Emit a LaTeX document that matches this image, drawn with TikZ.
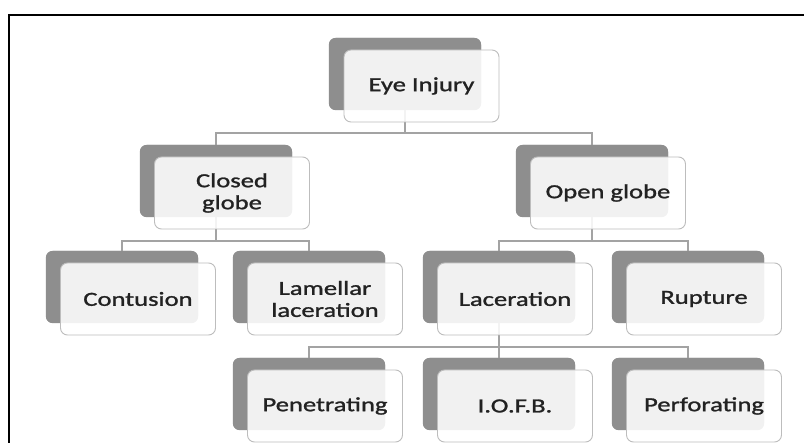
\documentclass[tikz,border=0pt]{standalone}
\usepackage{fontspec}
\setmainfont{Carlito}[FakeStretch=1.33, FakeBold=1.3, AutoFakeBold=1.3]
\definecolor{backgray}{HTML}{8E8E8E}
\definecolor{frontline}{HTML}{BDBDBD}
\definecolor{connline}{HTML}{A3A3A3}
\definecolor{txt}{HTML}{222222}
\begin{document}
\begin{tikzpicture}[x=1pt,y=-1pt,
  backbox/.style={fill=backgray, draw=none, rounded corners=7pt, minimum width=152pt, minimum height=72pt, inner sep=0pt},
  frontbox/.style={fill=white, fill opacity=0.88, text opacity=1, draw=frontline, line width=0.9pt, rounded corners=7pt, minimum width=155pt, minimum height=72pt, inner sep=0pt, align=center, text=txt, font=\fontsize{20}{22}\selectfont},
  conn/.style={draw=connline, line width=1.2pt}]
\useasboundingbox (0,0) rectangle (804,443);
\fill[white] (0,0) rectangle (804,443);
\draw[line width=2pt, black] (9,443) -- (9,15) -- (804,15);

% junction coordinates
\coordinate (j1) at (405,133);
\coordinate (j2) at (216,241);
\coordinate (j3) at (592,241);
\coordinate (j4) at (499,347);

% back boxes
\node[backbox] (b1) at (405,74) {};
\node[backbox] (b2) at (216,181) {};
\node[backbox] (b3) at (592,181) {};
\node[backbox] (b4) at (122,287) {};
\node[backbox] (b5) at (309,287) {};
\node[backbox] (b6) at (499,287) {};
\node[backbox] (b7) at (688,287) {};
\node[backbox] (b8) at (309,394) {};
\node[backbox] (b9) at (499,394) {};
\node[backbox] (b10) at (688,394) {};

% connectors
\draw[conn] (b1) -- (j1);
\draw[conn] (b2.north) |- (j1) -| (b3.north);
\draw[conn] (b2) -- (j2);
\draw[conn] (b4.north) |- (j2) -| (b5.north);
\draw[conn] (b3) -- (j3);
\draw[conn] (b6.north) |- (j3) -| (b7.north);
\draw[conn] (b6) -- (j4);
\draw[conn] (b8.north) |- (j4) -| (b10.north);
\draw[conn] (j4) -- (b9.north);

% redraw back boxes over connector stubs
\foreach \b in {b1,b2,b3,b4,b5,b6,b7,b8,b9,b10}
  \fill[backgray, rounded corners=7pt] (\b.south west) rectangle (\b.north east);

% front boxes
\node[frontbox] (eye) at (421.5,86) {Eye Injury};
\node[frontbox] (closed) at (232,193) {Closed\\globe};
\node[frontbox] (open) at (608,193) {Open globe};
\node[frontbox] (cont) at (138,299) {Contusion};
\node[frontbox] (lam) at (325,299) {Lamellar\\laceration};
\node[frontbox] (lac) at (515,299) {Laceration};
\node[frontbox] (rup) at (704,299) {Rupture};
\node[frontbox] (pen) at (325,406) {Penetrating};
\node[frontbox] (iofb) at (515,406) {I.O.F.B.};
\node[frontbox] (perf) at (704,406) {Perforating};
\end{tikzpicture}
\end{document}
